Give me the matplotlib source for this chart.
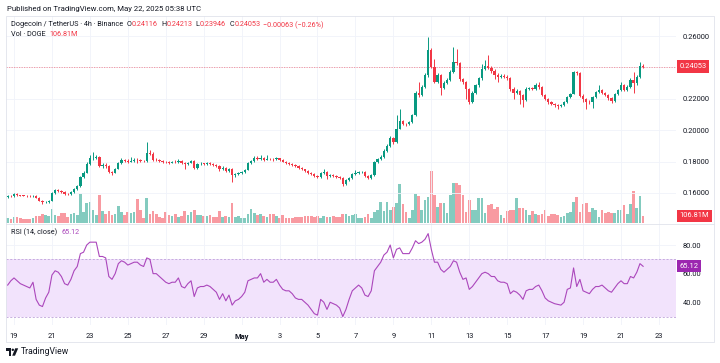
import numpy as np
import matplotlib
matplotlib.use("Agg")
import matplotlib.pyplot as plt
from matplotlib.transforms import blended_transform_factory
from matplotlib.patches import Polygon, Circle, Rectangle

plt.rcParams['font.family'] = ['Roboto', 'DejaVu Sans']

W, H = 720, 363
def fx(px): return px / W
def fy(py): return 1 - py / H

# 4h candles DOGE/USDT, Apr 18 16:00 -> May 22 04:00
first_open = 0.1575
closes = [
    0.1580, 0.1578, 0.1592, 0.1586, 0.1584, 0.1582, 0.1579, 0.1578, 0.1584, 0.1570,
    0.1552, 0.1540, 0.1543, 0.1552, 0.1600, 0.1618, 0.1614, 0.1605, 0.1595, 0.1592,
    0.1605, 0.1628, 0.1645, 0.1700, 0.1730, 0.1785, 0.1822, 0.1826, 0.1830, 0.1775,
    0.1780, 0.1772, 0.1735, 0.1730, 0.1755, 0.1790, 0.1810, 0.1806, 0.1800, 0.1805,
    0.1812, 0.1810, 0.1806, 0.1802, 0.1855, 0.1850, 0.1812, 0.1810, 0.1806, 0.1800,
    0.1795, 0.1792, 0.1796, 0.1795, 0.1806, 0.1790, 0.1782, 0.1792, 0.1805, 0.1760,
    0.1782, 0.1787, 0.1786, 0.1790, 0.1786, 0.1780, 0.1775, 0.1750, 0.1762, 0.1740,
    0.1755, 0.1712, 0.1722, 0.1726, 0.1735, 0.1748, 0.1790, 0.1805, 0.1822, 0.1818,
    0.1825, 0.1812, 0.1818, 0.1815, 0.1814, 0.1820, 0.1808, 0.1800, 0.1792, 0.1786,
    0.1778, 0.1770, 0.1760, 0.1750, 0.1742, 0.1730, 0.1720, 0.1708, 0.1702, 0.1725,
    0.1735, 0.1706, 0.1712, 0.1706, 0.1702, 0.1695, 0.1655, 0.1680, 0.1698, 0.1722,
    0.1728, 0.1733, 0.1735, 0.1708, 0.1697, 0.1712, 0.1798, 0.1818, 0.1830, 0.1870,
    0.1900, 0.1950, 0.1925, 0.2010, 0.2060, 0.2040, 0.2038, 0.2052, 0.2095, 0.2240,
    0.2222, 0.2275, 0.2350, 0.2510, 0.2405, 0.2310, 0.2350, 0.2268, 0.2300, 0.2320,
    0.2370, 0.2435, 0.2425, 0.2325, 0.2305, 0.2262, 0.2178, 0.2240, 0.2285, 0.2330,
    0.2392, 0.2412, 0.2398, 0.2378, 0.2350, 0.2340, 0.2345, 0.2340, 0.2330, 0.2262,
    0.2240, 0.2250, 0.2225, 0.2192, 0.2262, 0.2266, 0.2262, 0.2290, 0.2272, 0.2225,
    0.2200, 0.2180, 0.2168, 0.2158, 0.2152, 0.2160, 0.2180, 0.2212, 0.2232, 0.2368,
    0.2362, 0.2218, 0.2200, 0.2182, 0.2180, 0.2212, 0.2242, 0.2255, 0.2238, 0.2224,
    0.2204, 0.2184, 0.2232, 0.2258, 0.2285, 0.2258, 0.2275, 0.2318, 0.2298, 0.2340,
    0.24116, 0.24053]
highs = [
    0.1586, 0.1585, 0.1597, 0.1598, 0.1590, 0.1589, 0.1586, 0.1585, 0.1590, 0.1588,
    0.1574, 0.1556, 0.1550, 0.1558, 0.1606, 0.1625, 0.1628, 0.1620, 0.1610, 0.1600,
    0.1610, 0.1634, 0.1652, 0.1708, 0.1740, 0.1795, 0.1840, 0.1858, 0.1845, 0.1838,
    0.1792, 0.1788, 0.1778, 0.1742, 0.1762, 0.1798, 0.1822, 0.1818, 0.1815, 0.1830,
    0.1822, 0.1820, 0.1818, 0.1812, 0.1925, 0.1872, 0.1858, 0.1820, 0.1815, 0.1812,
    0.1806, 0.1802, 0.1804, 0.1810, 0.1814, 0.1810, 0.1796, 0.1800, 0.1812, 0.1810,
    0.1790, 0.1795, 0.1794, 0.1797, 0.1796, 0.1792, 0.1786, 0.1780, 0.1770, 0.1768,
    0.1762, 0.1760, 0.1730, 0.1734, 0.1742, 0.1755, 0.1796, 0.1812, 0.1834, 0.1838,
    0.1842, 0.1830, 0.1840, 0.1826, 0.1822, 0.1828, 0.1825, 0.1814, 0.1806, 0.1798,
    0.1792, 0.1784, 0.1776, 0.1766, 0.1756, 0.1748, 0.1736, 0.1725, 0.1714, 0.1732,
    0.1750, 0.1740, 0.1720, 0.1718, 0.1712, 0.1708, 0.1700, 0.1688, 0.1705, 0.1730,
    0.1745, 0.1742, 0.1742, 0.1740, 0.1714, 0.1720, 0.1805, 0.1826, 0.1840, 0.1880,
    0.1912, 0.1962, 0.1958, 0.2095, 0.2135, 0.2068, 0.2048, 0.2060, 0.2105, 0.2250,
    0.2305, 0.2285, 0.2365, 0.2593, 0.2525, 0.2455, 0.2362, 0.2358, 0.2312, 0.2330,
    0.2385, 0.2532, 0.2515, 0.2435, 0.2335, 0.2312, 0.2270, 0.2250, 0.2295, 0.2340,
    0.2420, 0.2445, 0.2480, 0.2410, 0.2388, 0.2362, 0.2360, 0.2355, 0.2350, 0.2338,
    0.2272, 0.2262, 0.2258, 0.2232, 0.2272, 0.2275, 0.2272, 0.2300, 0.2305, 0.2280,
    0.2232, 0.2208, 0.2188, 0.2175, 0.2165, 0.2168, 0.2188, 0.2220, 0.2240, 0.2378,
    0.2375, 0.2370, 0.2228, 0.2208, 0.2190, 0.2220, 0.2250, 0.2290, 0.2262, 0.2245,
    0.2230, 0.2210, 0.2240, 0.2265, 0.2305, 0.2292, 0.2285, 0.2335, 0.2370, 0.2350,
    0.2435, 0.24213]
lows = [
    0.1570, 0.1572, 0.1575, 0.1582, 0.1579, 0.1578, 0.1574, 0.1573, 0.1575, 0.1565,
    0.1546, 0.1532, 0.1534, 0.1538, 0.1548, 0.1595, 0.1606, 0.1598, 0.1588, 0.1585,
    0.1588, 0.1600, 0.1622, 0.1640, 0.1694, 0.1725, 0.1778, 0.1812, 0.1815, 0.1765,
    0.1762, 0.1760, 0.1728, 0.1715, 0.1725, 0.1750, 0.1785, 0.1798, 0.1792, 0.1795,
    0.1798, 0.1790, 0.1800, 0.1795, 0.1798, 0.1840, 0.1805, 0.1802, 0.1800, 0.1794,
    0.1788, 0.1786, 0.1788, 0.1790, 0.1790, 0.1784, 0.1752, 0.1778, 0.1788, 0.1752,
    0.1755, 0.1778, 0.1780, 0.1781, 0.1780, 0.1774, 0.1768, 0.1742, 0.1745, 0.1732,
    0.1735, 0.1670, 0.1705, 0.1716, 0.1720, 0.1730, 0.1744, 0.1785, 0.1800, 0.1810,
    0.1810, 0.1805, 0.1808, 0.1808, 0.1806, 0.1810, 0.1802, 0.1795, 0.1786, 0.1780,
    0.1772, 0.1764, 0.1752, 0.1745, 0.1735, 0.1724, 0.1712, 0.1700, 0.1694, 0.1698,
    0.1720, 0.1690, 0.1700, 0.1700, 0.1696, 0.1688, 0.1645, 0.1650, 0.1675, 0.1692,
    0.1715, 0.1722, 0.1726, 0.1700, 0.1690, 0.1692, 0.1708, 0.1792, 0.1812, 0.1825,
    0.1862, 0.1895, 0.1915, 0.1920, 0.2005, 0.2030, 0.2025, 0.2030, 0.2045, 0.2090,
    0.2212, 0.2215, 0.2268, 0.2340, 0.2395, 0.2300, 0.2300, 0.2224, 0.2260, 0.2292,
    0.2312, 0.2362, 0.2415, 0.2315, 0.2292, 0.2200, 0.2168, 0.2172, 0.2232, 0.2278,
    0.2322, 0.2385, 0.2388, 0.2365, 0.2325, 0.2310, 0.2332, 0.2330, 0.2318, 0.2252,
    0.2200, 0.2232, 0.2168, 0.2150, 0.2185, 0.2255, 0.2255, 0.2255, 0.2265, 0.2218,
    0.2192, 0.2170, 0.2160, 0.2148, 0.2132, 0.2145, 0.2155, 0.2175, 0.2205, 0.2228,
    0.2350, 0.2210, 0.2180, 0.2137, 0.2165, 0.2140, 0.2205, 0.2238, 0.2230, 0.2215,
    0.2195, 0.2175, 0.2178, 0.2225, 0.2250, 0.2250, 0.2250, 0.2268, 0.2240, 0.2290,
    0.2335, 0.23946]
volumes = [  # millions of DOGE
    70, 60, 85, 80, 65, 60, 55, 60, 75, 95,
    100, 130, 110, 95, 210, 120, 105, 150, 150, 80,
    130, 145, 115, 440, 160, 300, 320, 190, 120, 425,
    185, 140, 185, 110, 140, 255, 160, 115, 165, 145,
    160, 360, 190, 70, 375, 140, 185, 130, 90, 70,
    165, 120, 95, 140, 90, 95, 185, 115, 165, 200,
    120, 115, 95, 100, 115, 90, 80, 175, 90, 95,
    90, 305, 90, 95, 65, 70, 140, 215, 150, 110,
    140, 100, 85, 130, 125, 100, 70, 115, 70, 75,
    70, 85, 80, 90, 95, 100, 105, 90, 100, 75,
    95, 85, 80, 95, 80, 85, 135, 130, 100, 115,
    125, 70, 65, 80, 140, 70, 170, 195, 320, 185,
    310, 190, 245, 300, 590, 290, 165, 75, 190, 438,
    400, 190, 340, 390, 790, 425, 245, 295, 295, 145,
    420, 610, 600, 575, 420, 170, 340, 195, 200, 370,
    370, 150, 270, 280, 205, 245, 120, 75, 180, 195,
    195, 370, 220, 220, 190, 115, 180, 140, 120, 140,
    195, 100, 135, 135, 115, 90, 100, 150, 160, 310,
    395, 165, 290, 295, 165, 220, 195, 80, 200, 150,
    165, 150, 145, 200, 195, 270, 130, 290, 478, 220,
    410, 106.81]
rsi_vals = [
    52, 55, 57, 55, 53, 52, 51, 50, 54, 42,
    38, 37, 43, 47, 59, 62, 61, 58, 53, 52,
    56, 62, 65, 74, 75, 80, 82, 82, 82, 72,
    72, 71, 58, 56, 60, 67, 69, 68, 66, 67,
    68, 68, 66, 65, 71, 70, 60, 60, 58, 56,
    54, 53, 54, 54, 57, 51, 50, 53, 55, 44,
    50, 51, 51, 52, 51, 49, 47, 42, 46, 41,
    45, 38, 41, 42, 44, 47, 55, 56, 57, 57,
    60, 54, 56, 54, 54, 56, 52, 49, 48, 48,
    46, 43, 42, 42, 40, 38, 35, 32, 31, 42,
    40, 35, 40, 39, 38, 36, 30, 35, 42, 48,
    50, 52, 50, 45, 44, 48, 62, 65, 68, 73,
    75, 80, 71, 77, 78, 74, 74, 74, 78, 83,
    81, 82, 84, 88, 77, 68, 68, 63, 61, 63,
    65, 69, 68, 61, 56, 57, 49, 51, 54, 57,
    60, 61, 60, 58, 58, 55, 54, 54, 53, 46,
    48, 47, 45, 42, 48, 49, 49, 51, 52, 48,
    43, 41, 40, 39, 38.5, 38, 40, 49, 50, 64,
    51, 56, 48, 47, 46, 49, 51, 51, 52, 50,
    48, 47, 50, 53, 55, 53, 53, 58, 57, 61,
    67, 65.12]

day_ticks = list(range(0, 35, 2))   # days from Apr 19 00:00
day_labels = ['19', '21', '23', '25', '27', '29', 'May', '3', '5', '7', '9',
              '11', '13', '15', '17', '19', '21', '23']
price_ticks = [0.16, 0.18, 0.20, 0.22, 0.24, 0.26]
rsi_ticks = [40, 60, 80]

UP, DOWN = '#089981', '#F23645'
TXT = '#131722'
GRID = '#F0F3FA'
RSI_C = '#AB47BC'

opens = [first_open] + closes[:-1]
t = (np.arange(len(closes)) - 2) / 6.0      # candle time in days
o = np.array(opens); c = np.array(closes)
up = c >= o
cols = np.where(up, UP, DOWN)

fig = plt.figure(figsize=(7.2, 3.63), dpi=100)
fig.patch.set_facecolor('white')

rect_main = [fx(6), fy(224), fx(670), 208 / H]
xlim = (-0.422, 34.9)

# volume (own scale, under price)
vax = fig.add_axes(rect_main)
vax.bar(t, volumes, width=0.14, color=cols, alpha=0.5, linewidth=0)
vax.set_xlim(*xlim)
vax.set_ylim(-20, 3154)
vax.axis('off')

# price
ax = fig.add_axes(rect_main, facecolor='none')
ax.set_xlim(*xlim)
ax.set_ylim(0.14025, 0.27274)
ax.vlines(t, lows, highs, colors=cols, linewidth=0.7, zorder=3)
body = np.maximum(np.abs(c - o), 0.00025)
ax.bar(t, body, bottom=np.minimum(o, c), width=0.12, color=cols, linewidth=0, zorder=4)
ax.axhline(closes[-1], color=DOWN, lw=0.6, ls=(0, (1.5, 1.5)), alpha=0.55, zorder=2)
ax.set_xticks(day_ticks)
ax.set_yticks(price_ticks)
# the 0.24000 label sits under the last-price tag, so it is left blank
ax.set_yticklabels(['' if abs(p - closes[-1]) < 0.005 else f'{p:.5f}' for p in price_ticks])
ax.yaxis.tick_right()
ax.tick_params(axis='y', length=0, pad=5, labelsize=5.4, labelcolor=TXT)
ax.tick_params(axis='x', length=0, labelbottom=False)
ax.grid(True, color=GRID, lw=0.6, zorder=0)
for s in ax.spines.values():
    s.set_visible(False)

tr = blended_transform_factory(fig.transFigure, ax.transData)
ax.text(fx(679.5), closes[-1], f'{closes[-1]:.5f}', transform=tr, color='white',
        fontsize=5.4, va='center', ha='left',
        bbox=dict(boxstyle='square,pad=0.35', fc=DOWN, ec='none'))
trv = blended_transform_factory(fig.transFigure, vax.transData)
vax.text(fx(679.5), volumes[-1], f'{volumes[-1]:.2f}M', transform=trv, color='white',
         fontsize=5.4, va='center', ha='left',
         bbox=dict(boxstyle='square,pad=0.35', fc=DOWN, ec='none'))

# RSI pane
rax = fig.add_axes([fx(6), fy(325), fx(670), 101 / H])
rax.set_xlim(*xlim)
rax.set_ylim(24.1, 94.7)
rax.axhspan(30, 70, color='#F2E3FC', lw=0)
for lvl in (30, 70):
    rax.axhline(lvl, color='#BFA3DA', lw=0.6, ls=(0, (2.5, 2)))
rax.plot(t, rsi_vals, color=RSI_C, lw=0.8)
rax.set_xticks(day_ticks)
rax.set_xticklabels(day_labels)
for lab in rax.get_xticklabels():
    if lab.get_text() == 'May':
        lab.set_fontweight('bold')
rax.set_yticks(rsi_ticks)
rax.set_yticklabels([f'{v:.2f}' for v in rsi_ticks])
rax.yaxis.tick_right()
rax.tick_params(axis='y', length=0, pad=5, labelsize=5.4, labelcolor=TXT)
rax.tick_params(axis='x', length=0, pad=6, labelsize=5.4, labelcolor=TXT)
rax.grid(True, color=GRID, lw=0.6, zorder=0)
rax.set_axisbelow(True)
for s in rax.spines.values():
    s.set_visible(False)
trr = blended_transform_factory(fig.transFigure, rax.transData)
rax.text(fx(679.5), rsi_vals[-1], f'{rsi_vals[-1]:.2f}', transform=trr, color='white',
         fontsize=5.4, va='center', ha='left',
         bbox=dict(boxstyle='square,pad=0.35', fc='#9C27B0', ec='none'))

# frame, separators, logo
ov = fig.add_axes([0, 0, 1, 1], facecolor='none')
ov.set_xlim(0, W); ov.set_ylim(H, 0); ov.axis('off')
ov.add_patch(Rectangle((6, 16), 708, 326, fill=False, ec='#E0E3EB', lw=0.6))
ov.plot([6, 714], [224, 224], color='#E0E3EB', lw=0.6)
ov.add_patch(Polygon([(6, 348.3), (11, 348.3), (11, 355.7), (8.6, 355.7), (8.6, 350.6), (6, 350.6)],
                     closed=True, fc=TXT, ec='none'))
ov.add_patch(Circle((12.8, 349.8), 1.2, fc=TXT, ec='none'))
ov.add_patch(Polygon([(15.2, 348.3), (18.2, 348.3), (15.0, 355.7), (12.2, 355.7)],
                     closed=True, fc=TXT, ec='none'))

# texts, laid out left to right by measured width
renderer = fig.canvas.get_renderer()
def put_row(x0, y, parts, size=5.2):
    x = x0
    for s, col, gap in parts:
        txt = fig.text(fx(x), fy(y), s, fontsize=size, color=col, va='center', ha='left')
        x += txt.get_window_extent(renderer=renderer).width + gap

fig.text(fx(7), fy(9), 'Published on TradingView.com, May 22, 2025 05:38 UTC',
         fontsize=5.6, color=TXT, va='center')
put_row(11, 25, [('Dogecoin / TetherUS · 4h · Binance', TXT, 3.5),
                 ('O', TXT, 0.5), ('0.24116', DOWN, 3),
                 ('H', TXT, 0.5), ('0.24213', DOWN, 3),
                 ('L', TXT, 0.5), ('0.23946', DOWN, 3),
                 ('C', TXT, 0.5), ('0.24053', DOWN, 3),
                 ('−0.00063 (−0.26%)', DOWN, 0)])
put_row(11, 35, [('Vol · DOGE', TXT, 4), ('106.81M', DOWN, 0)])
put_row(11, 232.5, [('RSI (14, close)', TXT, 4), ('65.12', RSI_C, 0)])
fig.text(fx(20.5), fy(352), 'TradingView', fontsize=6.2, color=TXT, va='center')

fig.savefig('out.png', dpi=100)
